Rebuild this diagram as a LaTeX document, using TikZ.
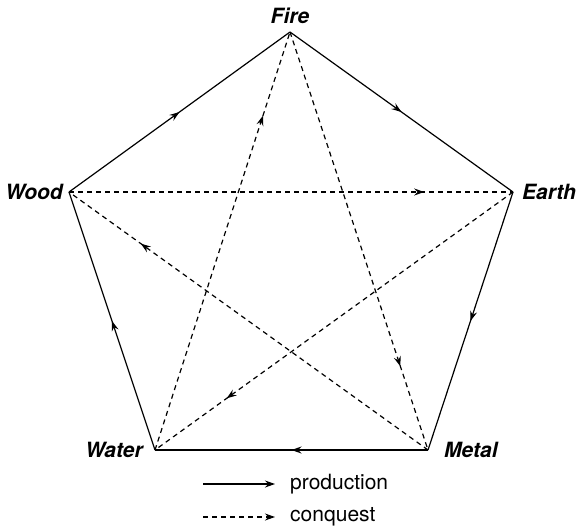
\documentclass[tikz,border=0pt]{standalone}
\usepackage{fontspec}
\setmainfont{TeX Gyre Heros}
\usetikzlibrary{arrows.meta,decorations.markings}

\begin{document}
\begin{tikzpicture}[
x=1pt, y=-1pt,
tip/.style={-{Stealth[length=10pt, width=7pt, inset=3.5pt]}},
edge/.style={line width=1.2pt},
prod/.style={edge, postaction={decorate},
  decoration={markings, mark=at position 0.5 with {\arrow{Stealth[length=10pt, width=7pt, inset=3.5pt]}}}},
conq/.style={edge, dash pattern=on 5pt off 4pt, postaction={decorate},
  decoration={markings, mark=at position 0.8 with {\arrow{Stealth[length=10pt, width=7pt, inset=3.5pt]}}}},
elem/.style={font=\fontsize{21}{25}\selectfont\bfseries\itshape, inner sep=0pt},
legtext/.style={font=\fontsize{21}{25}\selectfont, inner sep=0pt, anchor=west}
]
\useasboundingbox (0,0) rectangle (577,530);
% vertices
\coordinate (fire) at (290,32);
\coordinate (earth) at (513,192);
\coordinate (metal) at (428,450);
\coordinate (water) at (155,450);
\coordinate (wood) at (69,192);
% labels
\node[elem, anchor=base] (firelbl) at ([yshift=9]fire) {Fire};
\node[elem, anchor=west] (earthlbl) at ([xshift=9]earth) {Earth};
\node[elem, anchor=west] (metallbl) at ([xshift=16]metal) {Metal};
\node[elem, anchor=east] (waterlbl) at ([xshift=-12]water) {Water};
\node[elem, anchor=east] (woodlbl) at ([xshift=-6]wood) {Wood};
% production cycle
\draw[prod] (wood) -- (fire);
\draw[prod] (fire) -- (earth);
\draw[prod] (earth) -- (metal);
\draw[prod] (metal) -- (water);
\draw[prod] (water) -- (wood);
% conquest cycle
\draw[conq] (fire) -- (metal);
\draw[conq] (metal) -- (wood);
\draw[conq] (wood) -- (earth);
\draw[conq] (earth) -- (water);
\draw[conq] (water) -- (fire);
% legend
\coordinate (prodA) at (203,484);
\coordinate (prodB) at (275,484);
\coordinate (conqA) at (203,517);
\coordinate (conqB) at (275,517);
\node[legtext] (prodlbl) at (290,484) {production};
\node[legtext] (conqlbl) at (290,517) {conquest};
\draw[edge, tip] (prodA) -- (prodB);
\draw[edge, tip, dash pattern=on 5pt off 4pt] (conqA) -- (conqB);
\end{tikzpicture}
\end{document}
